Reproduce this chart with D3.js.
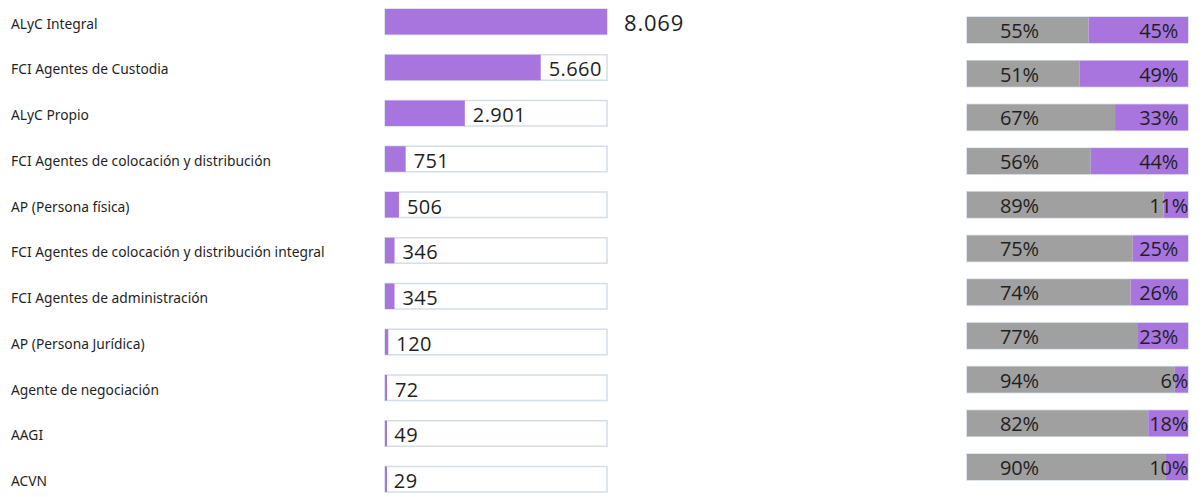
<!DOCTYPE html>
<html>
<head>
<meta charset="utf-8">
<script src="https://cdn.jsdelivr.net/npm/d3@7"></script>
<style>
    body { margin: 0; background: #fff; }
    svg { display: block; }
    .cat-label { font-family: "Noto Sans", "Open Sans", sans-serif; font-size: 13.8px; fill: #1f1f1f; }
    .val-label { font-family: "Open Sans", "Noto Sans", sans-serif; font-size: 20px; letter-spacing: 0.4px; fill: #1f1f1f; }
    .val-label.big { font-size: 22px; letter-spacing: 0.8px; }
    .pct-label { font-family: "Open Sans", "Noto Sans", sans-serif; font-size: 20px; letter-spacing: -0.2px; fill: #1f1f1f; }
</style>
</head>
<body>
<svg id="chart"></svg>
<script>
// data
const categories = [
    "ALyC Integral",
    "FCI Agentes de Custodia",
    "ALyC Propio",
    "FCI Agentes de colocación y distribución",
    "AP (Persona física)",
    "FCI Agentes de colocación y distribución integral",
    "FCI Agentes de administración",
    "AP (Persona Jurídica)",
    "Agente de negociación",
    "AAGI",
    "ACVN"
];
const totals = [8069, 5660, 2901, 751, 506, 346, 345, 120, 72, 49, 29];
const greyShare = [55, 51, 67, 56, 89, 75, 74, 77, 94, 82, 90];
const purpleShare = [45, 49, 33, 44, 11, 25, 26, 23, 6, 18, 10];

const rows = categories.map((c, i) => ({
    name: c,
    total: totals[i],
    grey: greyShare[i],
    purple: purpleShare[i]
}));

const width = 1203;
const height = 497;
const purple = "#a875df";
const grey = "#a0a0a0";
const trackStroke = "#d5dde6";
const maxTotal = d3.max(totals);

const fmt = d3.formatLocale({decimal: ",", thousands: ".", grouping: [3], currency: ["$", ""]}).format(",d");

const svg = d3.select("#chart")
    .attr("width", width)
    .attr("height", height);

// left block: totals
const yLeft = d3.scaleBand().domain(categories).range([9, 492]).paddingInner(0.443);
const x = d3.scaleLinear().domain([0, maxTotal]).range([385, 607]);

// category labels
svg.append("g")
    .selectAll("text")
    .data(rows)
    .join("text")
        .attr("class", "cat-label")
        .attr("x", 11)
        .attr("y", d => yLeft(d.name) + yLeft.bandwidth() / 2 + 2)
        .attr("dy", "0.35em")
        .text(d => d.name);

const left = svg.append("g")
    .selectAll("g")
    .data(rows)
    .join("g")
        .attr("transform", d => `translate(0,${yLeft(d.name)})`);

// background track
left.append("rect")
    .attr("x", x(0))
    .attr("y", 0)
    .attr("width", x.range()[1] - x(0))
    .attr("height", yLeft.bandwidth())
    .attr("fill", "#fff")
    .attr("stroke", trackStroke)
    .attr("stroke-width", 1.5);

// value bar
left.append("rect")
    .attr("x", x(0))
    .attr("y", 0)
    .attr("width", d => Math.max(2, x(d.total) - x(0)))
    .attr("height", yLeft.bandwidth())
    .attr("fill", purple);

left.append("text")
    .attr("class", d => d.total === maxTotal ? "val-label big" : "val-label")
    .attr("x", d => x(d.total) + (d.total === maxTotal ? 17 : 8))
    .attr("y", yLeft.bandwidth() / 2 + 2)
    .attr("dy", "0.35em")
    .text(d => fmt(d.total));

// right block: split percentages
const yRight = d3.scaleBand().domain(categories).range([17, 480]).paddingInner(0.405);
const xp = d3.scaleLinear().domain([0, 100]).range([967, 1188]);

const right = svg.append("g")
    .selectAll("g")
    .data(rows)
    .join("g")
        .attr("transform", d => `translate(0,${yRight(d.name)})`);

right.append("rect")
    .attr("x", xp(0))
    .attr("y", 0)
    .attr("width", xp(100) - xp(0))
    .attr("height", yRight.bandwidth())
    .attr("fill", "#fff")
    .attr("stroke", trackStroke)
    .attr("stroke-width", 1.5);

right.append("rect")
    .attr("x", xp(0))
    .attr("y", 0)
    .attr("width", d => xp(d.grey) - xp(0))
    .attr("height", yRight.bandwidth())
    .attr("fill", grey);

right.append("rect")
    .attr("x", d => xp(d.grey))
    .attr("y", 0)
    .attr("width", d => xp(100) - xp(d.grey))
    .attr("height", yRight.bandwidth())
    .attr("fill", purple);

right.append("text")
    .attr("class", "pct-label")
    .attr("x", xp(0) + 33)
    .attr("y", yRight.bandwidth() / 2 + 1)
    .attr("dy", "0.35em")
    .text(d => d.grey + "%");

right.append("text")
    .attr("class", "pct-label")
    .attr("text-anchor", "end")
    .attr("x", d => (xp(100) - xp(d.grey) < 50 ? xp(100) : xp(100) - 10))
    .attr("y", yRight.bandwidth() / 2 + 1)
    .attr("dy", "0.35em")
    .text(d => d.purple + "%");
</script>
</body>
</html>
